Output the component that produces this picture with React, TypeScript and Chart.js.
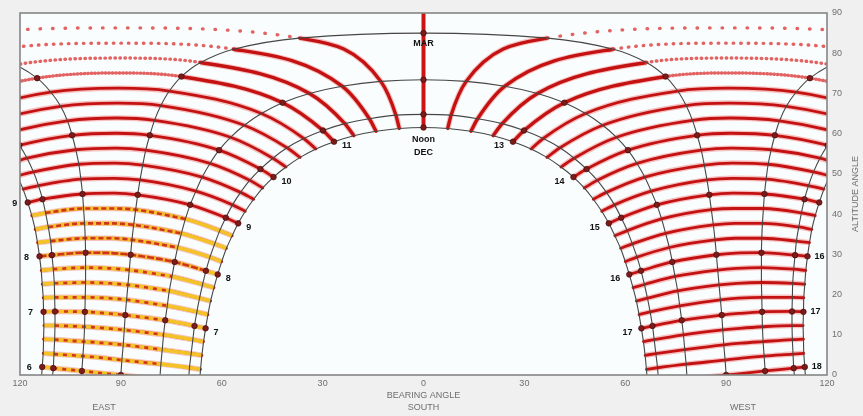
import React, { useEffect, useRef } from 'react';
import { Chart, registerables } from 'chart.js';

Chart.register(...registerables);

// Sun-path diagram: bearing from south (deg) and altitude (deg), read every 15 minutes
// from 06:00 to 11:45; the afternoon (18:00 -> 12:15) is the mirror image on the west side.
const TIMES_AM = ['06:00', '06:15', '06:30', '06:45', '07:00', '07:15', '07:30', '07:45',
  '08:00', '08:15', '08:30', '08:45', '09:00', '09:15', '09:30', '09:45',
  '10:00', '10:15', '10:30', '10:45', '11:00', '11:15', '11:30', '11:45'];

const decBearing = [66.6, 66.3, 65.9, 65.4, 64.8, 64.1, 63.3, 62.3, 61.2, 60.0, 58.6, 56.9, 55.1, 53.0, 50.5, 47.8, 44.6, 40.9, 36.7, 32.0, 26.6, 20.7, 14.1, 7.2];
const decAlt = [-2.0, 1.4, 4.9, 8.3, 11.6, 15.0, 18.4, 21.7, 25.0, 28.2, 31.5, 34.6, 37.7, 40.7, 43.7, 46.5, 49.2, 51.7, 54.1, 56.2, 58.0, 59.5, 60.6, 61.3];

const janBearing = [69.9, 69.6, 69.1, 68.6, 68.1, 67.4, 66.6, 65.7, 64.7, 63.5, 62.1, 60.6, 58.8, 56.8, 54.4, 51.7, 48.5, 44.8, 40.6, 35.6, 29.9, 23.4, 16.1, 8.2];
const janAlt = [-1.7, 1.8, 5.3, 8.8, 12.2, 15.7, 19.1, 22.5, 25.9, 29.3, 32.6, 35.9, 39.1, 42.3, 45.4, 48.4, 51.2, 53.9, 56.5, 58.8, 60.8, 62.5, 63.7, 64.6];

const febBearing = [78.4, 78.1, 77.7, 77.3, 76.8, 76.2, 75.6, 74.8, 74.0, 73.1, 72.0, 70.8, 69.4, 67.7, 65.8, 63.5, 60.8, 57.4, 53.3, 48.2, 41.9, 33.9, 24.2, 12.7];
const febAlt = [-1.0, 2.7, 6.3, 10.0, 13.6, 17.2, 20.9, 24.5, 28.1, 31.7, 35.2, 38.8, 42.3, 45.7, 49.2, 52.6, 55.9, 59.1, 62.1, 65.0, 67.7, 70.0, 71.8, 73.0];

const marBearing = [90.0, 89.7, 89.3, 89.0, 88.7, 88.3, 87.9, 87.5, 87.1, 86.7, 86.2, 85.6, 85.0, 84.3, 83.5, 82.6, 81.4, 80.0, 78.1, 75.6, 72.0, 66.3, 56.5, 36.9];
const marAlt = [0.0, 3.7, 7.5, 11.2, 14.9, 18.7, 22.4, 26.1, 29.9, 33.6, 37.3, 41.1, 44.8, 48.5, 52.2, 55.9, 59.6, 63.3, 67.0, 70.6, 74.2, 77.7, 81.0, 83.75];

const zenBearing = [95.0, 94.7, 94.4, 94.1, 93.8, 93.6, 93.3, 93.1, 92.9, 92.7, 92.5, 92.3, 92.1, 91.9, 91.7, 91.5, 91.3, 91.2, 91.0, 90.8, 90.7, 90.5, 90.3, 90.2];
const zenAlt = [0.4, 4.2, 7.9, 11.6, 15.3, 19.1, 22.8, 26.5, 30.3, 34.0, 37.7, 41.4, 45.2, 48.9, 52.7, 56.4, 60.1, 63.9, 67.6, 71.3, 75.1, 78.8, 82.5, 86.3];

const aprBearing = [101.6, 101.3, 101.0, 100.8, 100.7, 100.6, 100.5, 100.5, 100.5, 100.6, 100.8, 101.1, 101.4, 101.9, 102.5, 103.4, 104.5, 105.9, 107.9, 110.8, 114.9, 121.4, 132.2, 150.9];
const aprAlt = [1.0, 4.7, 8.3, 12.0, 15.7, 19.3, 23.0, 26.7, 30.4, 34.0, 37.7, 41.4, 45.0, 48.7, 52.4, 56.0, 59.6, 63.2, 66.8, 70.3, 73.8, 77.1, 80.1, 82.4];

const mayBearing = [110.1, 109.9, 109.7, 109.6, 109.6, 109.7, 109.8, 110.1, 110.5, 110.9, 111.6, 112.4, 113.3, 114.5, 116.0, 117.9, 120.2, 123.1, 126.8, 131.5, 137.5, 145.2, 155.0, 166.8];
const mayAlt = [1.7, 5.2, 8.8, 12.3, 15.8, 19.3, 22.8, 26.3, 29.8, 33.3, 36.8, 40.3, 43.7, 47.1, 50.5, 53.9, 57.1, 60.3, 63.4, 66.3, 68.9, 71.3, 73.1, 74.3];

const junBearing = [113.4, 113.1, 113.0, 112.9, 113.0, 113.1, 113.4, 113.7, 114.2, 114.8, 115.5, 116.5, 117.7, 119.1, 120.8, 122.9, 125.5, 128.7, 132.6, 137.4, 143.4, 150.6, 159.3, 169.3];
const junAlt = [2.0, 5.4, 8.9, 12.3, 15.7, 19.2, 22.6, 26.0, 29.5, 32.9, 36.2, 39.6, 42.9, 46.2, 49.5, 52.6, 55.7, 58.7, 61.5, 64.2, 66.6, 68.6, 70.2, 71.2];

// noon altitudes (sun due south) and sunrise bearings (sun rising before 06:00)
const NOON_ALT = { DEC: 61.55, JAN: 64.8, FEB: 73.4, MAR: 85.0, ZEN: 90.0 };
const RISE_BEARING = { APR: 101.65, MAY: 110.3, JUN: 113.55 };

const X_TICKS = [-120, -90, -60, -30, 0, 30, 60, 90, 120];
const Y_TICKS = [0, 10, 20, 30, 40, 50, 60, 70, 80, 90];

const JUN_AM_LABELS = ['6', '7', '8', '9'];
const JUN_PM_LABELS = ['18', '17', '16'];
const DEC_AM_LABELS = ['7', '8', '9', '10', '11'];
const DEC_PM_LABELS = ['17', '16', '15', '14', '13'];

type P = { x: number; y: number };
interface Day { name: string; b: number[]; a: number[]; noon: number | null; rise: number | null; path: boolean }

const DAYS: Day[] = [
  { name: 'DEC', b: decBearing, a: decAlt, noon: NOON_ALT.DEC, rise: null, path: true },
  { name: 'JAN', b: janBearing, a: janAlt, noon: NOON_ALT.JAN, rise: null, path: true },
  { name: 'FEB', b: febBearing, a: febAlt, noon: NOON_ALT.FEB, rise: null, path: true },
  { name: 'MAR', b: marBearing, a: marAlt, noon: NOON_ALT.MAR, rise: null, path: true },
  { name: 'ZEN', b: zenBearing, a: zenAlt, noon: NOON_ALT.ZEN, rise: null, path: false },
  { name: 'APR', b: aprBearing, a: aprAlt, noon: null, rise: RISE_BEARING.APR, path: true },
  { name: 'MAY', b: mayBearing, a: mayAlt, noon: null, rise: RISE_BEARING.MAY, path: true },
  { name: 'JUN', b: junBearing, a: junAlt, noon: null, rise: RISE_BEARING.JUN, path: true },
];

const HOUR_IDX = TIMES_AM.map((t, i) => (t.endsWith(':00') ? i : -1)).filter((i) => i >= 0);
const FONT = '"Liberation Sans", Arial, sans-serif';

function buildDatasets() {
  const ds: any[] = [];
  const nT = TIMES_AM.length;
  const nD = DAYS.length;
  const marIdx = DAYS.findIndex((d) => d.name === 'MAR');
  const gaps = [12, 7, 4.5, 3];

  const amPoints = (i: number, from = 0, to = nD - 1): P[] => {
    const out: P[] = [];
    for (let c = to; c >= from; c--) out.push({ x: -DAYS[c].b[i], y: DAYS[c].a[i] });
    return out;
  };
  const pmPoints = (i: number): P[] => DAYS.map((d) => ({ x: d.b[i], y: d.a[i] }));

  for (let i = 0; i < nT; i++) {
    const k = nT - 1 - i;
    const gap = k < gaps.length ? gaps[k] : 0;
    for (const side of ['am', 'pm']) {
      const data = side === 'am' ? amPoints(i) : pmPoints(i);
      const sparseSeg = (ctx: any) => {
        if (!gap) return false;
        const j = ctx.p0DataIndex;
        const minCol = side === 'am' ? nD - 2 - j : j;
        return minCol >= marIdx;
      };
      // halo
      ds.push({
        data, order: 6, borderWidth: 5.5, pointRadius: 0, cubicInterpolationMode: 'monotone',
        borderColor: 'rgba(236,95,95,0.38)',
        segment: { borderColor: (ctx: any) => (sparseSeg(ctx) ? 'rgba(0,0,0,0)' : undefined) },
      });
      // core
      ds.push({
        data, order: 5, borderWidth: gap ? 3.4 : 2.8, pointRadius: 0, cubicInterpolationMode: 'monotone',
        borderColor: '#c41212', borderCapStyle: 'round',
        segment: {
          borderDash: (ctx: any) => (sparseSeg(ctx) ? [0.5, gap] : undefined),
          borderColor: (ctx: any) => (sparseSeg(ctx) ? 'rgba(222,70,70,0.85)' : undefined),
        },
      });
    }
    // yellow morning band with red dashes in its middle part
    if (i < 12) {
      ds.push({
        data: amPoints(i), order: 4, borderWidth: 3.6, pointRadius: 0, cubicInterpolationMode: 'monotone',
        borderColor: 'rgba(246,204,40,0.95)',
      });
      const from = i === 8 ? 1 : 2;
      const to = i === 8 ? 7 : 6;
      ds.push({
        data: amPoints(i, from, to), order: 3, borderWidth: 2.6, pointRadius: 0, cubicInterpolationMode: 'monotone',
        borderColor: 'rgba(200,28,28,0.85)', borderDash: i < 8 ? [4, 5] : i === 8 ? [7, 2] : [5, 3],
      });
    }
  }

  // noon line (sun due south)
  ds.push({
    data: DAYS.filter((d) => d.noon !== null).map((d) => ({ x: 0, y: d.noon as number })),
    order: 2, borderWidth: 4, pointRadius: 0, borderColor: '#cc1414',
  });

  // day paths
  const markers: P[] = [];
  for (const d of DAYS) {
    if (!d.path) continue;
    const am: P[] = [];
    const pm: P[] = [];
    if (d.rise !== null) am.push({ x: -d.rise, y: 0 });
    for (let i = 0; i < nT; i++) am.push({ x: -d.b[i], y: d.a[i] });
    for (let i = nT - 1; i >= 0; i--) pm.push({ x: d.b[i], y: d.a[i] });
    if (d.rise !== null) pm.push({ x: d.rise, y: 0 });
    const style = { order: 1, borderWidth: 1.1, pointRadius: 0, borderColor: '#464646', tension: 0.3 };
    if (d.noon !== null) {
      ds.push({ data: [...am, { x: 0, y: d.noon }, ...pm], ...style });
      markers.push({ x: 0, y: d.noon });
    } else {
      ds.push({ data: am, ...style });
      ds.push({ data: pm, ...style });
    }
    for (const h of HOUR_IDX) {
      markers.push({ x: -d.b[h], y: d.a[h] });
      markers.push({ x: d.b[h], y: d.a[h] });
    }
  }
  ds.push({
    data: markers, order: 0, showLine: false, pointStyle: 'circle', pointRadius: 2.8,
    pointBackgroundColor: '#7e1a1a', pointBorderColor: 'rgba(60,10,10,0.8)', pointBorderWidth: 0.8,
  });
  return ds;
}

const decorPlugin = {
  id: 'decor',
  beforeDraw(chart: any) {
    const { ctx, chartArea: ca, width, height } = chart;
    ctx.save();
    ctx.fillStyle = '#f0f0f0';
    ctx.fillRect(0, 0, width, height);
    ctx.fillStyle = '#fafdfd';
    ctx.fillRect(ca.left, ca.top, ca.right - ca.left, ca.bottom - ca.top);
    ctx.restore();
  },
  afterDraw(chart: any) {
    const { ctx, chartArea: ca } = chart;
    const xs = chart.scales.x;
    const ys = chart.scales.y;
    const px = (v: number) => xs.getPixelForValue(v);
    const py = (v: number) => ys.getPixelForValue(v);
    ctx.save();
    // frame
    ctx.strokeStyle = '#858585';
    ctx.lineWidth = 1.6;
    ctx.strokeRect(ca.left, ca.top, ca.right - ca.left, ca.bottom - ca.top);

    // hour labels
    ctx.fillStyle = '#111';
    ctx.font = `bold 9px ${FONT}`;
    ctx.textBaseline = 'middle';
    const jun = DAYS[DAYS.length - 1];
    const dec = DAYS[0];
    ctx.textAlign = 'center';
    JUN_AM_LABELS.forEach((t, k) => {
      const i = HOUR_IDX[k];
      ctx.fillText(t, px(-jun.b[i]) - 13, py(jun.a[i]) + 1);
    });
    ctx.textAlign = 'left';
    JUN_PM_LABELS.forEach((t, k) => {
      const i = HOUR_IDX[k];
      ctx.fillText(t, px(jun.b[i]) + 7, py(jun.a[i]) + 0);
    });
    DEC_AM_LABELS.forEach((t, k) => {
      const i = HOUR_IDX[k + 1];
      ctx.fillText(t, px(-dec.b[i]) + 8, py(dec.a[i]) + 4);
    });
    ctx.textAlign = 'right';
    DEC_PM_LABELS.forEach((t, k) => {
      const i = HOUR_IDX[k + 1];
      ctx.fillText(t, px(dec.b[i]) - 9, py(dec.a[i]) + 4);
    });
    ctx.textAlign = 'center';
    ctx.fillText('Noon', px(0), py(NOON_ALT.DEC) + 12);
    ctx.fillText('DEC', px(0), py(NOON_ALT.DEC) + 25);
    ctx.fillText('MAR', px(0), py(NOON_ALT.MAR) + 10);

    // axis titles
    ctx.fillStyle = '#6e6e6e';
    ctx.font = `9px ${FONT}`;
    ctx.fillText('BEARING ANGLE', px(0), ca.bottom + 21);
    ctx.fillText('SOUTH', px(0), ca.bottom + 33);
    ctx.fillText('EAST', px(-95), ca.bottom + 33);
    ctx.fillText('WEST', px(95), ca.bottom + 33);
    ctx.translate(856, (ca.top + ca.bottom) / 2);
    ctx.rotate(-Math.PI / 2);
    ctx.fillText('ALTITUDE ANGLE', 0, 0);
    ctx.restore();
  },
};

export default function App() {
  const ref = useRef<HTMLCanvasElement>(null);
  useEffect(() => {
    if (!ref.current) return;
    Chart.defaults.font.family = FONT;
    const chart = new Chart(ref.current, {
      type: 'line',
      data: { datasets: buildDatasets() },
      options: {
        responsive: false,
        animation: false,
        events: [],
        layout: { padding: { left: 20, top: 13, right: 0, bottom: 0 } },
        plugins: { legend: { display: false }, tooltip: { enabled: false } },
        scales: {
          x: {
            type: 'linear', min: -120, max: 120, position: 'bottom',
            afterBuildTicks: (s: any) => { s.ticks = X_TICKS.map((v) => ({ value: v })); },
            ticks: {
              callback: (v: any) => String(Math.abs(Number(v))),
              font: { size: 9, family: FONT }, color: '#6e6e6e', padding: 3,
              maxRotation: 0, autoSkip: false,
            },
            grid: { display: false, drawTicks: false },
            border: { display: false },
            afterFit: (s: any) => { s.height = 41; s.paddingLeft = 0; s.paddingRight = 0; },
          },
          y: {
            type: 'linear', min: 0, max: 90, position: 'right',
            afterBuildTicks: (s: any) => { s.ticks = Y_TICKS.map((v) => ({ value: v })); },
            ticks: { font: { size: 9, family: FONT }, color: '#6e6e6e', padding: 5, autoSkip: false },
            grid: { display: false, drawTicks: false },
            border: { display: false },
            afterFit: (s: any) => { s.width = 36; s.paddingTop = 0; s.paddingBottom = 0; },
          },
        },
      } as any,
      plugins: [decorPlugin],
    });
    return () => chart.destroy();
  }, []);
  return (
    <div style={{ position: 'fixed', left: 0, top: 0, width: 863, height: 416, background: '#f0f0f0' }}>
      <canvas ref={ref} width={863} height={416} style={{ display: 'block', width: 863, height: 416 }} />
    </div>
  );
}
